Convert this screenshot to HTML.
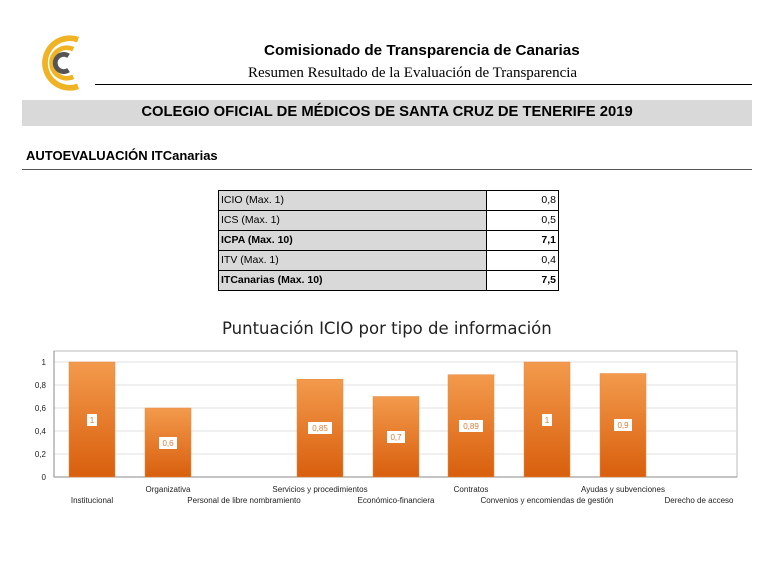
<!DOCTYPE html>
<html><head><meta charset="utf-8"><style>
body{margin:0;width:779px;height:562px;background:#fff;position:relative;overflow:hidden;font-family:"Liberation Sans",sans-serif}
.a{position:absolute;white-space:nowrap}
table{border-collapse:collapse;position:absolute;left:218px;top:190px;width:341px;font-size:10.5px}
td{border:1px solid #000;height:19px;padding:0 2px;line-height:19px}
td.l{background:#d9d9d9;width:263px}
td.r{text-align:right}
</style></head><body>
<svg class="a" style="left:30px;top:32px" width="58" height="62" viewBox="0 0 60 65">
<path d="M50 8 A26 26 0 1 0 50 57" fill="none" stroke="#f0b323" stroke-width="6"/>
<path d="M45 18 A16 16 0 1 0 45 47" fill="none" stroke="#f0b323" stroke-width="5"/>
<path d="M40 25 A9 9 0 1 0 40 40" fill="none" stroke="#555" stroke-width="5"/>
</svg>
<div class="a" style="left:264px;top:42px;font-size:15.2px;font-weight:bold">Comisionado de Transparencia de Canarias</div>
<div class="a" style="left:248px;top:65px;font-size:15px;font-family:'Liberation Serif',serif">Resumen Resultado de la Evaluación de Transparencia</div>
<div class="a" style="left:95px;top:84px;width:657px;height:1px;background:#000"></div>
<div class="a" style="left:22px;top:100px;width:730px;height:26px;background:#d9d9d9"></div>
<div class="a" style="left:22px;top:104px;width:730px;text-align:center;font-size:14.8px;font-weight:bold">COLEGIO OFICIAL DE MÉDICOS DE SANTA CRUZ DE TENERIFE 2019</div>
<div class="a" style="left:26px;top:148px;font-size:13px;font-weight:bold">AUTOEVALUACIÓN ITCanarias</div>
<div class="a" style="left:22px;top:169px;width:730px;height:1px;background:#555"></div>
<table>
<tr><td class="l">ICIO (Max. 1)</td><td class="r">0,8</td></tr>
<tr><td class="l">ICS (Max. 1)</td><td class="r">0,5</td></tr>
<tr><td class="l"><b>ICPA (Max. 10)</b></td><td class="r"><b>7,1</b></td></tr>
<tr><td class="l">ITV (Max. 1)</td><td class="r">0,4</td></tr>
<tr><td class="l"><b>ITCanarias (Max. 10)</b></td><td class="r"><b>7,5</b></td></tr>
</table>
<div class="a" style="left:222px;top:319px;font-size:16.5px;font-family:'DejaVu Sans',sans-serif;color:#222">Puntuación ICIO por tipo de información</div>
<svg class="a" style="left:0;top:0" width="779" height="562" font-family="Liberation Sans, sans-serif" font-size="8">
<defs><linearGradient id="g" x1="0" y1="0" x2="0" y2="1"><stop offset="0" stop-color="#f39a4c"/><stop offset="1" stop-color="#d85f0d"/></linearGradient></defs>
<rect x="54" y="351" width="683" height="126" fill="none" stroke="#bbb"/>
<g stroke="#e2e2e2"><line x1="54" x2="737" y1="362" y2="362"/><line x1="54" x2="737" y1="385" y2="385"/><line x1="54" x2="737" y1="408" y2="408"/><line x1="54" x2="737" y1="431" y2="431"/><line x1="54" x2="737" y1="454" y2="454"/></g>
<line x1="54" x2="737" y1="477" y2="477" stroke="#888"/>
<line x1="54" x2="54" y1="351" y2="477" stroke="#888"/>
<g text-anchor="end" fill="#222"><text x="46" y="365">1</text><text x="46" y="388">0,8</text><text x="46" y="411">0,6</text><text x="46" y="434">0,4</text><text x="46" y="457">0,2</text><text x="46" y="480">0</text></g>
<g fill="url(#g)" stroke="#e88a45" stroke-width="0.5">
<rect x="69" y="362" width="46" height="115"/>
<rect x="145" y="408" width="46" height="69"/>
<rect x="297" y="379.25" width="46" height="97.75"/>
<rect x="373" y="396.5" width="46" height="80.5"/>
<rect x="448" y="374.65" width="46" height="102.35"/>
<rect x="524" y="362" width="46" height="115"/>
<rect x="600" y="373.5" width="46" height="103.5"/>
</g>
<g font-size="8" text-anchor="middle" fill="#e07a35">
<rect x="87" y="414" width="10" height="12" fill="#fff"/><text x="92" y="423">1</text>
<rect x="159" y="437" width="18" height="12" fill="#fff"/><text x="168" y="446">0,6</text>
<rect x="308" y="422" width="24" height="12" fill="#fff"/><text x="320" y="431">0,85</text>
<rect x="387" y="431" width="18" height="12" fill="#fff"/><text x="396" y="440">0,7</text>
<rect x="459" y="420" width="24" height="12" fill="#fff"/><text x="471" y="429">0,89</text>
<rect x="542" y="414" width="10" height="12" fill="#fff"/><text x="547" y="423">1</text>
<rect x="614" y="419" width="18" height="12" fill="#fff"/><text x="623" y="428">0,9</text>
</g>
<g text-anchor="middle" fill="#222">
<text x="92" y="503">Institucional</text>
<text x="168" y="492">Organizativa</text>
<text x="244" y="503">Personal de libre nombramiento</text>
<text x="320" y="492">Servicios y procedimientos</text>
<text x="396" y="503">Económico-financiera</text>
<text x="471" y="492">Contratos</text>
<text x="547" y="503">Convenios y encomiendas de gestión</text>
<text x="623" y="492">Ayudas y subvenciones</text>
<text x="699" y="503">Derecho de acceso</text>
</g>
</svg>
</body></html>
